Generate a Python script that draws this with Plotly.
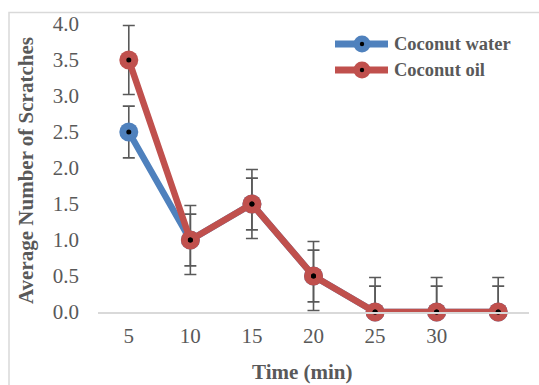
import plotly.graph_objects as go

time_min = [5, 10, 15, 20, 25, 30, 35]
tick_vals = [5, 10, 15, 20, 25, 30]
tick_text = ["5", "10", "15", "20", "25", "30"]
coconut_water = [2.5, 1.0, 1.5, 0.5, 0.0, 0.0, 0.0]
coconut_oil = [3.5, 1.0, 1.5, 0.5, 0.0, 0.0, 0.0]
err_water = [0.36, 0.36, 0.36, 0.36, 0.36, 0.36, 0.36]
err_oil = [0.48, 0.48, 0.48, 0.48, 0.48, 0.48, 0.48]
y_ticks = [0.0, 0.5, 1.0, 1.5, 2.0, 2.5, 3.0, 3.5, 4.0]

BLUE = "#4f81bd"
RED = "#c0504d"
GRAY = "#595959"
FONT = "Liberation Serif"

# plot area in pixels
L, R, T, B = 98, 529, 24, 312
W, H = 539, 385


def px(x):
    return (x - L) / (R - L)


def py(y):
    return (B - y) / (B - T)


def minus(vals, errs):
    return [min(v, e) for v, e in zip(vals, errs)]


fig = go.Figure()
for name, vals, errs, col in [("Coconut water", coconut_water, err_water, BLUE),
                              ("Coconut oil", coconut_oil, err_oil, RED)]:
    fig.add_trace(go.Scatter(
        x=time_min, y=vals, name=name, mode="lines+markers",
        line=dict(color=col, width=6.5),
        marker=dict(color=col, size=19),
        error_y=dict(type="data", array=errs, arrayminus=minus(vals, errs),
                     symmetric=False, color=GRAY, thickness=1.6, width=6),
        cliponaxis=False, showlegend=False, hoverinfo="skip"))
for vals in [coconut_water, coconut_oil]:
    fig.add_trace(go.Scatter(
        x=time_min, y=vals, mode="markers",
        marker=dict(color="black", size=5),
        cliponaxis=False, showlegend=False, hoverinfo="skip"))

shapes = [dict(type="rect", xref="paper", yref="paper",
               x0=px(9), x1=px(560), y0=py(400), y1=py(12.5),
               line=dict(color="#d9d9d9", width=1.5), layer="below")]
annotations = []
for name, col, yy in [("Coconut water", BLUE, 44), ("Coconut oil", RED, 70)]:
    shapes.append(dict(type="line", xref="paper", yref="paper",
                       x0=px(335), x1=px(388), y0=py(yy), y1=py(yy),
                       line=dict(color=col, width=7)))
    shapes.append(dict(type="circle", xref="paper", yref="paper",
                       xsizemode="pixel", ysizemode="pixel",
                       xanchor=px(362), yanchor=py(yy),
                       x0=-8.5, x1=8.5, y0=-8.5, y1=8.5,
                       fillcolor=col, line=dict(width=0)))
    shapes.append(dict(type="circle", xref="paper", yref="paper",
                       xsizemode="pixel", ysizemode="pixel",
                       xanchor=px(362), yanchor=py(yy),
                       x0=-2.2, x1=2.2, y0=-2.2, y1=2.2,
                       fillcolor="black", line=dict(width=0)))
    annotations.append(dict(text="<b>%s</b>" % name, xref="paper", yref="paper",
                            x=px(392), y=py(yy), xanchor="left", yanchor="middle",
                            showarrow=False,
                            font=dict(family=FONT, size=18.5, color=GRAY)))

annotations.append(dict(text="<b>Time (min)</b>", xref="paper", yref="paper",
                        x=px(302), y=py(372), xanchor="center", yanchor="middle",
                        showarrow=False, font=dict(family=FONT, size=21, color=GRAY)))
annotations.append(dict(text="<b>Average Number of Scratches</b>", xref="paper", yref="paper",
                        x=px(26), y=py(171), xanchor="center", yanchor="middle",
                        textangle=-90, showarrow=False,
                        font=dict(family=FONT, size=21, color=GRAY)))

fig.update_layout(
    width=W, height=H,
    margin=dict(l=L, r=W - R, t=T, b=H - B),
    paper_bgcolor="white", plot_bgcolor="white",
    showlegend=False,
    font=dict(family=FONT),
    shapes=shapes, annotations=annotations,
    xaxis=dict(range=[2.5, 37.5], tickvals=tick_vals, ticktext=tick_text,
               showgrid=False, zeroline=False, showline=True,
               linecolor="#d9d9d9", linewidth=1.5, ticks="",
               ticklabelstandoff=4,
               tickfont=dict(family=FONT, size=21, color=GRAY)),
    yaxis=dict(range=[0, 4.0], tickvals=y_ticks,
               ticktext=["%.1f" % v for v in y_ticks],
               showgrid=False, zeroline=False, showline=False, ticks="",
               ticklabelstandoff=18,
               tickfont=dict(family=FONT, size=21, color=GRAY)),
)

fig.write_html("out.html")
